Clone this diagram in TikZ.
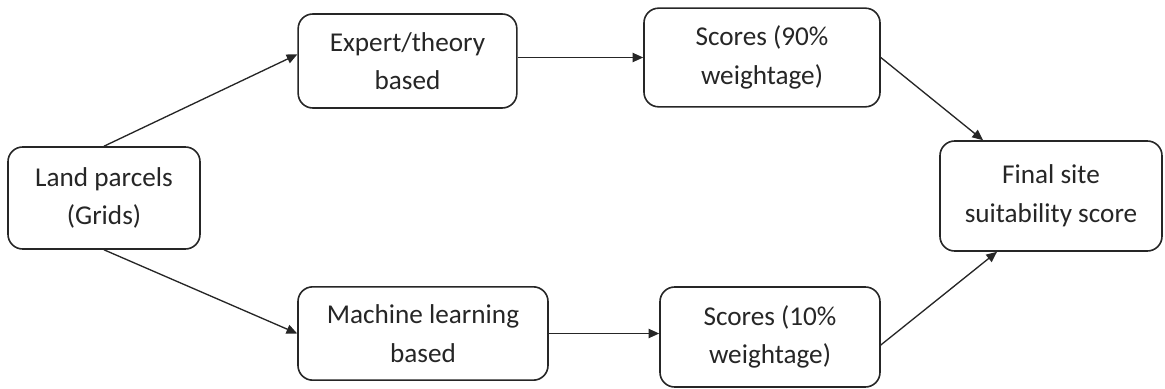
\documentclass[tikz,border=0pt]{standalone}
\usepackage{fontspec}
\setmainfont{Carlito}
\usetikzlibrary{arrows.meta}

\tikzset{
  box/.style={draw=black!85, line width=1.2pt, rounded corners=11pt, fill=white,
    align=center, inner sep=2pt, text=black!85,
    font=\fontsize{20.4}{29}\selectfont},
  arr/.style={draw=black!85, line width=1pt, -{Triangle[length=8pt,width=7pt]}}
}

\begin{document}
\begin{tikzpicture}[x=0.75pt,y=0.75pt,yscale=-1,xscale=1]
\useasboundingbox (0,0) rectangle (1165,389);
% boxes
\node [box, minimum width=144pt, minimum height=76.5pt] (land) at (104,198) {Land parcels\\(Grids)};
\node [box, minimum width=164pt, minimum height=70.5pt] (exp) at (407.5,61) {Expert/theory\\based};
\node [box, minimum width=177pt, minimum height=74pt] (s90) at (762,57.5) {Scores (90\%\\weightage)};
\node [box, minimum width=187.5pt, minimum height=70pt] (ml) at (423,333.5) {Machine learning\\based};
\node [box, minimum width=165pt, minimum height=75pt] (s10) at (770,337) {Scores (10\%\\weightage)};
\node [box, minimum width=166.5pt, minimum height=82.5pt] (fin) at (1051,196) {Final site\\suitability score};
% connectors
\draw [arr] (land.north) -- ([yshift=-5pt]exp.west);
\draw [arr] (exp.east |- s90.west) -- (s90.west);
\draw [arr] (s90.east) -- ([xshift=-51pt]fin.north);
\draw [arr] (land.south) -- (ml.west);
\draw [arr] (ml.east) -- (ml.east -| s10.west);
\draw [arr] ([yshift=6pt]s10.east) -- ([xshift=-40.5pt]fin.south);
\end{tikzpicture}
\end{document}
